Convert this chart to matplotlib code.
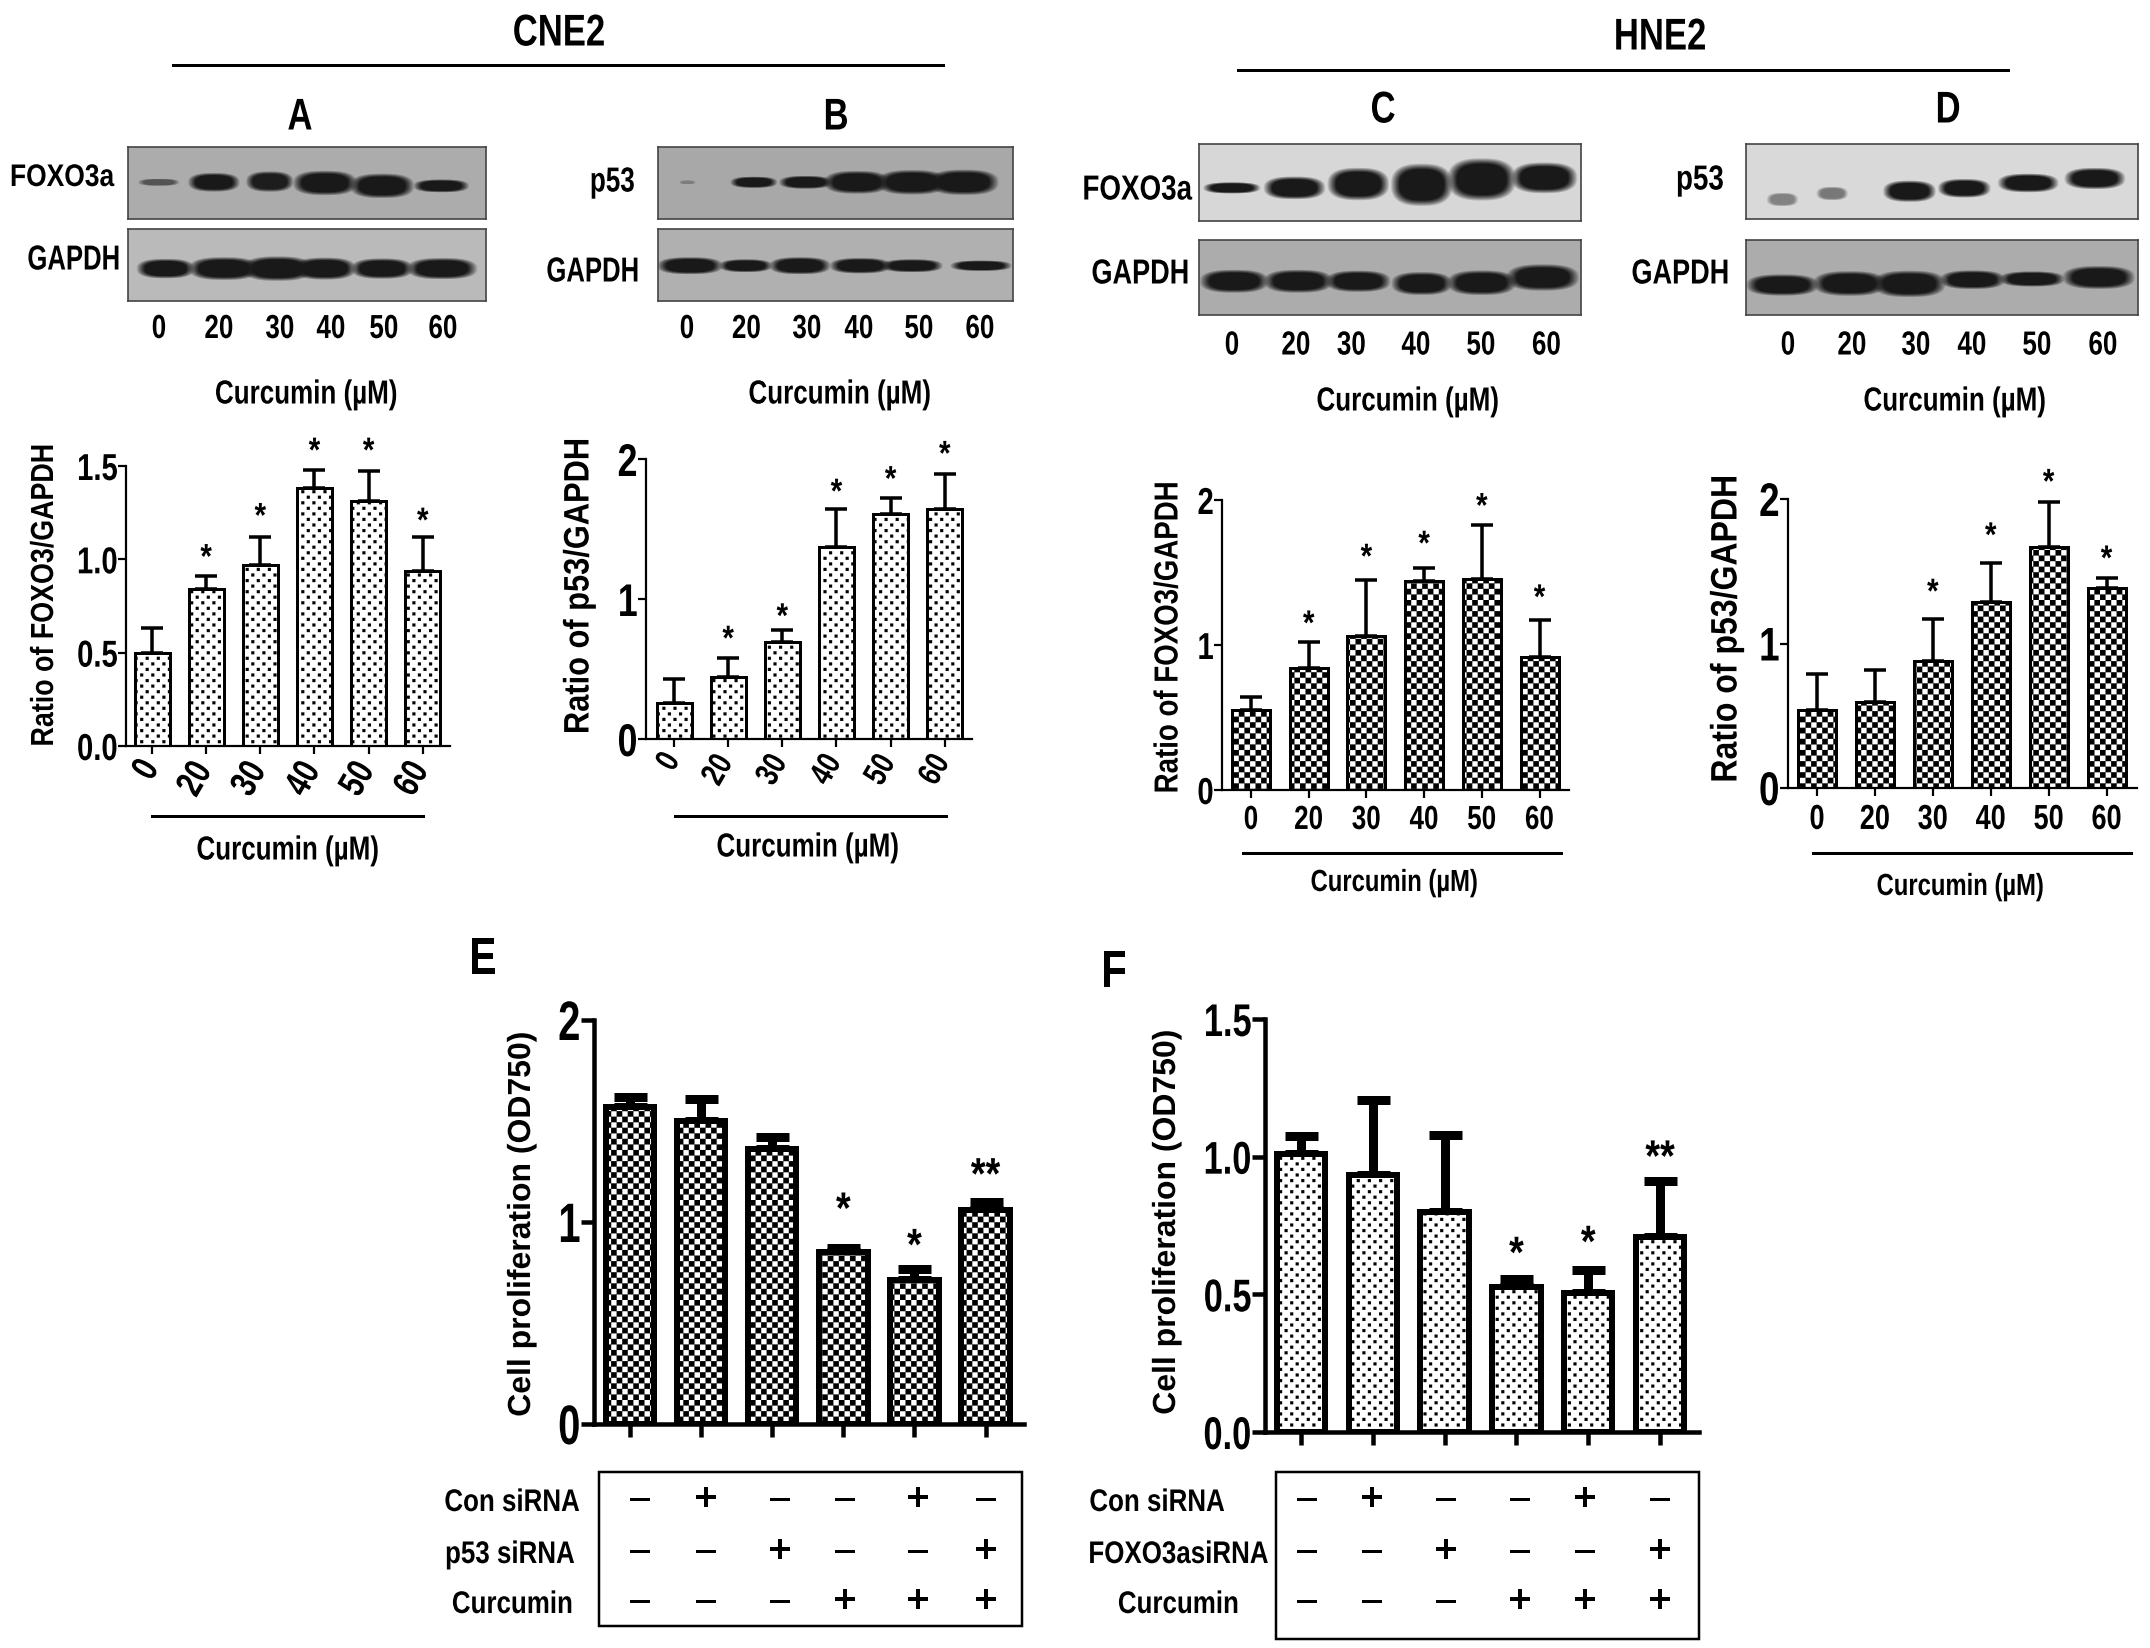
import warnings

import numpy as np
import matplotlib
matplotlib.use("Agg")
import matplotlib.pyplot as plt
from matplotlib import hatch as mhatch
from matplotlib.path import Path
from matplotlib.patheffects import AbstractPathEffect
from matplotlib.transforms import Affine2D

warnings.filterwarnings("ignore")

W, H = 2150, 1648

plt.rcParams["font.family"] = ["Liberation Sans", "DejaVu Sans"]
plt.rcParams["font.weight"] = "bold"
plt.rcParams["hatch.linewidth"] = 0.1

doses = ["0", "20", "30", "40", "50", "60"]

# panel values: bar height, top of error bar, height of the star
a_vals = [0.50, 0.84, 0.97, 1.38, 1.31, 0.94]
a_errs = [0.63, 0.91, 1.12, 1.48, 1.475, 1.12]
a_star = [None, 1.06, 1.28, 1.63, 1.63, 1.255]

b_vals = [0.255, 0.44, 0.69, 1.37, 1.61, 1.64]
b_errs = [0.43, 0.58, 0.78, 1.64, 1.72, 1.89]
b_star = [None, 0.78, 0.94, 1.83, 1.92, 2.10]

c_vals = [0.55, 0.84, 1.06, 1.44, 1.455, 0.92]
c_errs = [0.64, 1.02, 1.45, 1.53, 1.83, 1.17]
c_star = [None, 1.21, 1.67, 1.76, 2.02, 1.39]

d_vals = [0.54, 0.595, 0.88, 1.285, 1.665, 1.385]
d_errs = [0.79, 0.82, 1.17, 1.56, 1.98, 1.45]
d_star = [None, None, 1.42, 1.81, 2.18, 1.65]

e_vals = [1.57, 1.50, 1.36, 0.85, 0.715, 1.06]
e_errs = [1.62, 1.61, 1.42, 0.87, 0.765, 1.10]
e_star = [None, None, None, 1.12, 0.94, 1.29]
e_mark = ["", "", "", "*", "*", "**"]

f_vals = [1.01, 0.935, 0.80, 0.525, 0.505, 0.71]
f_errs = [1.075, 1.205, 1.08, 0.555, 0.59, 0.91]
f_star = [None, None, None, 0.69, 0.73, 1.04]

con_row = ["–", "+", "–", "–", "+", "–"]
sirna_row = ["–", "–", "+", "–", "–", "+"]
cur_row = ["–", "–", "–", "+", "+", "+"]

# blot bands: centre x, centre y, width, height, strength (fractions of the blot)
a_top = [(.086, .49, .10, .09, .6), (.24, .49, .125, .23, 1), (.396, .48, .115, .25, .97),
         (.55, .50, .155, .30, 1), (.71, .54, .155, .30, 1), (.875, .54, .135, .16, 1)]
a_gapdh = [(.105, .55, .14, .24, 1), (.268, .55, .17, .28, 1), (.418, .55, .17, .30, 1),
           (.55, .55, .15, .27, 1), (.71, .55, .15, .25, 1), (.878, .55, .17, .26, 1)]
b_top = [(.083, .49, .04, .05, .3), (.27, .49, .115, .14, 1), (.416, .49, .13, .16, 1),
         (.56, .49, .16, .28, 1), (.716, .49, .17, .30, 1), (.862, .49, .17, .31, 1)]
b_gapdh = [(.09, .51, .16, .21, 1), (.247, .51, .13, .16, 1), (.40, .51, .15, .21, 1),
           (.57, .51, .15, .19, 1), (.716, .51, .15, .16, 1), (.91, .51, .15, .13, 1)]
c_top = [(.086, .57, .13, .13, 1), (.25, .57, .14, .26, 1), (.417, .52, .14, .37, 1),
         (.583, .53, .14, .48, 1), (.74, .46, .155, .48, 1), (.904, .44, .15, .35, 1)]
c_gapdh = [(.092, .55, .156, .27, 1), (.26, .55, .156, .27, 1), (.417, .55, .147, .25, 1),
           (.583, .58, .138, .27, 1), (.74, .57, .156, .29, 1), (.90, .50, .165, .31, 1)]
d_top = [(.093, .74, .07, .16, .45), (.22, .66, .07, .16, .5), (.417, .63, .117, .25, 1),
         (.557, .59, .117, .22, 1), (.72, .52, .135, .22, 1), (.89, .46, .135, .25, 1)]
d_gapdh = [(.093, .60, .16, .25, 1), (.264, .58, .16, .29, 1), (.417, .585, .16, .31, 1),
           (.578, .53, .144, .22, 1), (.73, .52, .144, .18, 1), (.90, .50, .16, .27, 1)]


class Squeeze(AbstractPathEffect):
    # narrows text along its own direction, the installed fonts have no condensed cut
    def __init__(self, factor, angle=0, pivot="center"):
        super().__init__()
        self.factor, self.angle, self.pivot = factor, angle, pivot

    def draw_path(self, renderer, gc, tpath, affine, rgbFace=None):
        box = tpath.get_extents(affine)
        px = box.x1 if self.pivot == "right" else (box.x0 + box.x1) / 2
        py = (box.y0 + box.y1) / 2
        narrow = (Affine2D().translate(-px, -py).rotate_deg(-self.angle).scale(self.factor, 1)
                  .rotate_deg(self.angle).translate(px, py))
        renderer.draw_path(gc, tpath, affine + narrow, rgbFace)


class Checker(mhatch.HatchPatternBase):
    filled = True

    def __init__(self, hatch, density):
        self.cells = hatch.count("c") * density
        self.num_vertices = 5 * self.cells ** 2 // 2 if self.cells else 0

    def set_vertices_and_codes(self, vertices, codes):
        step = 1.0 / self.cells
        k = 0
        for i in range(self.cells):
            for j in range(self.cells):
                if (i + j) % 2:
                    continue
                x, y = i * step, j * step
                vertices[k:k + 5] = [(x, y), (x + step, y), (x + step, y + step), (x, y + step), (x, y)]
                codes[k:k + 5] = [Path.MOVETO, Path.LINETO, Path.LINETO, Path.LINETO, Path.CLOSEPOLY]
                k += 5


class Dots(mhatch.HatchPatternBase):
    filled = True
    side = 0.03

    def __init__(self, hatch, density):
        self.rows = hatch.count("d") * density
        self.num_vertices = 5 * self.rows * (self.rows // 2) if self.rows else 0

    def set_vertices_and_codes(self, vertices, codes):
        cols = self.rows // 2
        s = self.side / 2
        k = 0
        for r in range(self.rows):
            for c in range(cols):
                x = (c + (0.25 if r % 2 else 0.75)) / cols
                y = (r + 0.5) / self.rows
                vertices[k:k + 5] = [(x - s, y - s), (x + s, y - s), (x + s, y + s), (x - s, y + s), (x - s, y - s)]
                codes[k:k + 5] = [Path.MOVETO, Path.LINETO, Path.LINETO, Path.LINETO, Path.CLOSEPOLY]
                k += 5


mhatch._hatch_types.extend([Checker, Dots])

fig = plt.figure(figsize=(W / 100, H / 100), dpi=100, facecolor="white")


def pt(px):
    return px * 0.72


def label(x, y, s, size, ha="center", rotation=0, squeeze=0.78, **kw):
    t = fig.text(x / W, 1 - y / H, s, fontsize=size, ha=ha, va="center",
                 rotation=rotation, rotation_mode="anchor", **kw)
    t.set_path_effects([Squeeze(squeeze, rotation, "right" if ha == "right" else "center")])
    return t


def rule(x0, x1, y, lw=3):
    fig.add_artist(plt.Line2D([x0 / W, x1 / W], [1 - y / H] * 2, color="black", lw=pt(lw)))


def blot(x0, x1, y0, y1, bands, bg):
    ax = fig.add_axes([x0 / W, 1 - y1 / H, (x1 - x0) / W, (y1 - y0) / H])
    nx, ny = int(x1 - x0), int(y1 - y0)
    xx, yy = np.meshgrid((np.arange(nx) + .5) / nx, (np.arange(ny) + .5) / ny)
    img = np.full((ny, nx), float(bg))
    for xc, yc, bw, bh, strength in bands:
        r = (np.abs(xx - xc) / (bw / 2)) ** 2.6 + (np.abs(yy - yc) / (bh / 2)) ** 2.6
        mask = np.clip((1.5 - r) / 0.9, 0, 1) * strength
        img = img * (1 - mask) + 25 * mask
    ax.imshow(img, cmap="gray", vmin=0, vmax=255, aspect="auto", interpolation="bilinear")
    ax.set_xticks([])
    ax.set_yticks([])
    for s in ax.spines.values():
        s.set_color("#444444")
        s.set_linewidth(1.2)


def bars(box, first, step, width, vals, errs, star, ymax, yticks, ylabs, hatch,
         edge, stem, cap, axis_lw, tick_len, ysize, ysqueeze=0.78, star_size=25, marks=None):
    left, top, right, bottom = box
    ax = fig.add_axes([left / W, 1 - bottom / H, (right - left) / W, (bottom - top) / H])
    ax.patch.set_alpha(0)
    x = np.arange(len(vals))
    ax.errorbar(x, vals, yerr=[np.zeros(len(vals)), np.array(errs) - np.array(vals)], fmt="none",
                ecolor="black", elinewidth=pt(stem), capsize=pt(cap / 2), capthick=pt(stem), zorder=1)
    ax.bar(x, vals, width=(width - edge) / step, facecolor="white", edgecolor="black",
           linewidth=pt(edge), hatch=hatch, zorder=2)
    for i, s in enumerate(star):
        if s is None:
            continue
        mark = marks[i] if marks else "*"
        t = ax.annotate(mark, (i, s), xytext=(0, -0.57 * star_size), textcoords="offset points",
                        ha="center", va="baseline", fontsize=star_size, annotation_clip=False)
        t.set_path_effects([Squeeze(0.85)])
    ax.set_xlim((left - first) / step, (right - first) / step)
    ax.set_ylim(0, ymax)
    ax.set_yticks(yticks)
    ax.set_yticklabels(ylabs, fontsize=ysize)
    for t in ax.get_yticklabels():
        t.set_path_effects([Squeeze(ysqueeze, 0, "right")])
    ax.set_xticks(x)
    ax.tick_params(axis="y", width=pt(axis_lw), length=pt(tick_len), pad=0)
    ax.tick_params(axis="x", width=pt(axis_lw), length=pt(tick_len), pad=5)
    ax.spines["top"].set_visible(False)
    ax.spines["right"].set_visible(False)
    ax.spines["left"].set_linewidth(pt(axis_lw))
    ax.spines["bottom"].set_linewidth(pt(axis_lw))
    return ax


def dose_ticks(ax, size, rotation=0):
    if rotation:
        ax.set_xticklabels(doses, fontsize=size, rotation=rotation, ha="right",
                           rotation_mode="anchor", va="center")
    else:
        ax.set_xticklabels(doses, fontsize=size)
    for t in ax.get_xticklabels():
        t.set_path_effects([Squeeze(0.78, rotation)])


def sign_box(x0, x1, y0, y1, xs, names, name_xs, rows):
    fig.add_artist(plt.Rectangle((x0 / W, 1 - y1 / H), (x1 - x0) / W, (y1 - y0) / H, fill=False,
                                 edgecolor="black", lw=pt(2.5), transform=fig.transFigure))
    for y, name, nx, row in zip([1503, 1555, 1605], names, name_xs, rows):
        label(nx, y, name, 22.5, ha="right", squeeze=0.83)
        for sx, sign in zip(xs, row):
            label(sx, y - 3, sign, 28, squeeze=1)


dotted = "ddd"
checks = "ccc"

# group headers and panel letters
label(559, 34, "CNE2", 32)
rule(173, 943, 65)
label(1660, 38, "HNE2", 32)
rule(1238, 2008, 70)
label(300, 118, "A", 32)
label(836, 118, "B", 32)
label(1383, 111, "C", 32)
label(1948, 111, "D", 32)
label(483, 960, "E", 38)
label(1114, 973, "F", 38)

# western blots
blot(128, 486, 147, 219, a_top, 172)
blot(128, 486, 229, 301, a_gapdh, 186)
blot(658, 1013, 147, 219, b_top, 168)
blot(658, 1013, 229, 301, b_gapdh, 176)
blot(1199, 1581, 144, 221, c_top, 215)
blot(1199, 1581, 240, 315, c_gapdh, 172)
blot(1746, 2138, 144, 219, d_top, 218)
blot(1746, 2138, 240, 315, d_gapdh, 172)

label(62, 178, "FOXO3a", 22.5, squeeze=0.845)
label(74, 260, "GAPDH", 25, squeeze=0.74)
label(635, 182, "p53", 25, ha="right", squeeze=0.75)
label(640, 272, "GAPDH", 25, ha="right", squeeze=0.74)
label(1192, 190, "FOXO3a", 25, ha="right", squeeze=0.8)
label(1190, 274, "GAPDH", 25, ha="right")
label(1724, 180, "p53", 25, ha="right", squeeze=0.8)
label(1730, 274, "GAPDH", 25, ha="right")

for xs, y in [([159, 219, 280, 331, 384, 443], 329.5), ([687, 746.5, 807, 859, 919, 980], 329.5),
              ([1232, 1296, 1351.5, 1416, 1481, 1546.5], 346), ([1788, 1852, 1916, 1972, 2037, 2103], 346)]:
    for x, d in zip(xs, doses):
        label(x, y, d, 24)

curcumin_blot = "Curcumin (\u00b5M)"
label(306.5, 395, curcumin_blot, 24)
label(840, 395, curcumin_blot, 24)
label(1408, 402, curcumin_blot, 24)
label(1955, 402, curcumin_blot, 24)

# dose response bars
ax_a = bars((126, 466, 450, 746), 152, 54.15, 38, a_vals, a_errs, a_star, 1.5, [0, .5, 1, 1.5],
            ["0.0", "0.5", "1.0", "1.5"], dotted, 3, 3.5, 22, 2.2, 8, 27)
ax_b = bars((646, 459, 972, 739), 674, 54.15, 38, b_vals, b_errs, b_star, 2, [0, 1, 2],
            ["0", "1", "2"], dotted, 3, 3.5, 22, 2.2, 8, 33)
ax_c = bars((1222, 500, 1569, 790), 1251, 57.7, 41, c_vals, c_errs, c_star, 2, [0, 1, 2],
            ["0", "1", "2"], checks, 3, 3.5, 23, 2.2, 8, 27)
ax_d = bars((1788, 499, 2137, 788), 1817, 57.9, 41, d_vals, d_errs, d_star, 2, [0, 1, 2],
            ["0", "1", "2"], checks, 3, 3.5, 23, 2.2, 8, 34)

dose_ticks(ax_a, 27, rotation=60)
dose_ticks(ax_b, 24, rotation=60)
dose_ticks(ax_c, 24)
dose_ticks(ax_d, 25)

rule(152, 423, 816)
rule(675, 945.5, 816)
rule(1243, 1560.5, 853)
rule(1813, 2131, 853)

label(288, 851, curcumin_blot, 24)
label(808, 848, curcumin_blot, 24)
label(1394, 883, curcumin_blot, 22)
label(1960, 887, curcumin_blot, 22)

label(45, 595, "Ratio of FOXO3/GAPDH", 23, rotation=90, squeeze=0.84)
label(579, 586, "Ratio of p53/GAPDH", 25.5, rotation=90, squeeze=0.87)
label(1169, 637, "Ratio of FOXO3/GAPDH", 24, rotation=90, squeeze=0.83)
label(1727, 629, "Ratio of p53/GAPDH", 26.5, rotation=90, squeeze=0.87)

# siRNA bars
bars((594, 1020, 1024, 1424), 630, 71.1, 54.5, e_vals, e_errs, e_star, 2, [0, 1, 2],
     ["0", "1", "2"], checks, 6, 9, 33, 4.5, 13, 40, ysqueeze=0.72, star_size=32, marks=e_mark).set_xticklabels([])
bars((1265, 1019, 1699, 1432), 1301, 71.8, 54.5, f_vals, f_errs, f_star, 1.5, [0, .5, 1, 1.5],
     ["0.0", "0.5", "1.0", "1.5"], dotted, 6, 9, 33, 4.5, 13, 33, ysqueeze=0.75, star_size=32, marks=e_mark).set_xticklabels([])

label(522, 1224, "Cell proliferation (OD750)", 23, rotation=90, squeeze=1)
label(1167, 1222, "Cell proliferation (OD750)", 23, rotation=90, squeeze=1)

sign_box(599, 1022, 1472, 1626, [640, 706, 780, 845, 918, 986],
         ["Con siRNA", "p53 siRNA", "Curcumin"], [580, 575, 573], [con_row, sirna_row, cur_row])
sign_box(1276, 1699, 1472, 1639, [1307, 1372, 1446, 1520, 1585, 1660],
         ["Con siRNA", "FOXO3asiRNA", "Curcumin"], [1225, 1269, 1239], [con_row, sirna_row, cur_row])

fig.savefig("out.png", dpi=100)
